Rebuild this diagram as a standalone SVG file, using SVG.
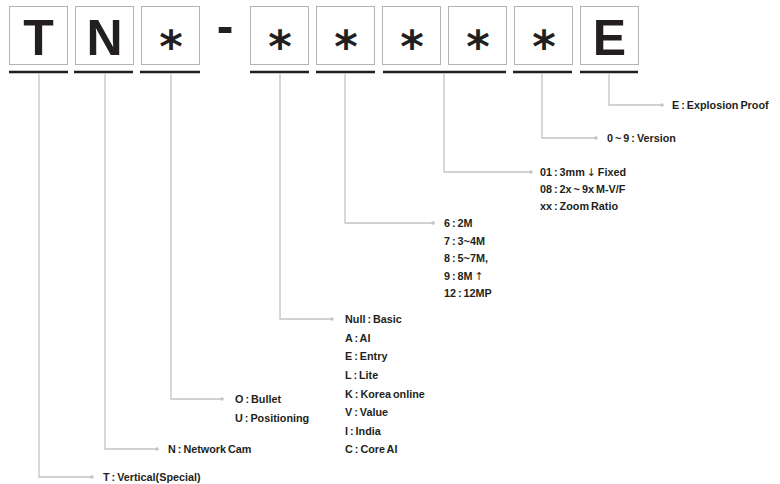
<svg xmlns="http://www.w3.org/2000/svg" width="780" height="484" viewBox="0 0 780 484">
<style>
.box{fill:#fff;stroke:#b3b3b3;stroke-width:1}
.ul{stroke:#231f20;stroke-width:2.6}
.big{font-family:"Liberation Sans",Arial,sans-serif;font-weight:bold;font-size:50px;fill:#231f20;text-anchor:middle}
.ast{font-family:"DejaVu Sans",sans-serif;font-weight:bold;font-size:45px;fill:#231f20;text-anchor:middle}
.conn{fill:none;stroke:#c4c4c4;stroke-width:1.3}
.dot{fill:#c4c4c4}
.lbl{font-family:"Liberation Sans",Arial,sans-serif;font-weight:bold;font-size:10.8px;fill:#231f20;word-spacing:-1px}
.arr{font-family:"DejaVu Sans",sans-serif;font-weight:normal;fill:#231f20}
</style>
<rect width="780" height="484" fill="#fff"/>
<g id="code">
<g id="c1"><rect class="box" x="9.5" y="6.5" width="58" height="58"/><text class="big" x="38.5" y="55">T</text><line class="ul" x1="9" y1="72" x2="68" y2="72"/></g>
<g id="c2"><rect class="box" x="75.5" y="6.5" width="58" height="58"/><text class="big" x="104.5" y="55">N</text><line class="ul" x1="74" y1="72" x2="133" y2="72"/></g>
<g id="c3"><rect class="box" x="141.5" y="6.5" width="58" height="58"/><text class="ast" x="171" y="62">*</text><line class="ul" x1="140" y1="72" x2="200" y2="72"/></g>
<g id="dash"><text class="big" x="225" y="43">-</text></g>
<g id="c4"><rect class="box" x="250.5" y="6.5" width="58" height="58"/><text class="ast" x="280" y="62">*</text><line class="ul" x1="250" y1="72" x2="309" y2="72"/></g>
<g id="c5"><rect class="box" x="316.5" y="6.5" width="58" height="58"/><text class="ast" x="346" y="62">*</text><line class="ul" x1="316" y1="72" x2="375" y2="72"/></g>
<g id="c6"><rect class="box" x="382.5" y="6.5" width="58" height="58"/><text class="ast" x="412" y="62">*</text></g>
<g id="c7"><rect class="box" x="448.5" y="6.5" width="58" height="58"/><text class="ast" x="478" y="62">*</text><line class="ul" x1="383" y1="72" x2="506" y2="72"/></g>
<g id="c8"><rect class="box" x="514.5" y="6.5" width="58" height="58"/><text class="ast" x="544" y="62">*</text><line class="ul" x1="513" y1="72" x2="572" y2="72"/></g>
<g id="c9"><rect class="box" x="580.5" y="6.5" width="58" height="58"/><text class="big" x="609.5" y="55">E</text><line class="ul" x1="580" y1="72" x2="638" y2="72"/></g>
</g>
<g id="connectors">
<path class="conn" d="M39,73.5V477H92"/><circle class="dot" cx="92" cy="477" r="1.8"/>
<path class="conn" d="M105,73.5V449H157"/><circle class="dot" cx="157" cy="449" r="1.8"/>
<path class="conn" d="M171,73.5V399H222"/><circle class="dot" cx="222" cy="399" r="1.8"/>
<path class="conn" d="M280,73.5V319H332"/><circle class="dot" cx="332" cy="319" r="1.8"/>
<path class="conn" d="M345,73.5V223H433"/><circle class="dot" cx="433" cy="223" r="1.8"/>
<path class="conn" d="M444,73.5V172H531"/><circle class="dot" cx="531" cy="172" r="1.8"/>
<path class="conn" d="M542,73.5V138H596"/><circle class="dot" cx="596" cy="138" r="1.8"/>
<path class="conn" d="M609,73.5V105H662"/><circle class="dot" cx="662" cy="105" r="1.8"/>
</g>
<g id="labels">
<g id="l-E"><text class="lbl" x="672" y="109">E : Explosion Proof</text></g>
<g id="l-ver"><text class="lbl" x="607" y="142">0 ~ 9 : Version</text></g>
<g id="l-lens"><text class="lbl" x="540" y="176">01 : 3mm <tspan class="arr">↓</tspan> Fixed</text><text class="lbl" x="540" y="193">08 : 2x ~ 9x M-V/F</text><text class="lbl" x="540" y="210">xx : Zoom Ratio</text></g>
<g id="l-res"><text class="lbl" x="444" y="227">6 : 2M</text><text class="lbl" x="444" y="245">7 : 3~4M</text><text class="lbl" x="444" y="262">8 : 5~7M,</text><text class="lbl" x="444" y="280">9 : 8M <tspan class="arr">↑</tspan></text><text class="lbl" x="444" y="297">12 : 12MP</text></g>
<g id="l-grade"><text class="lbl" x="345" y="323">Null : Basic</text><text class="lbl" x="345" y="341.5">A : AI</text><text class="lbl" x="345" y="360">E : Entry</text><text class="lbl" x="345" y="379">L : Lite</text><text class="lbl" x="345" y="397.5">K : Korea online</text><text class="lbl" x="345" y="416">V : Value</text><text class="lbl" x="345" y="434.5">I : India</text><text class="lbl" x="345" y="453">C : Core AI</text></g>
<g id="l-type"><text class="lbl" x="235" y="403">O : Bullet</text><text class="lbl" x="235" y="422">U : Positioning</text></g>
<g id="l-N"><text class="lbl" x="168" y="453">N : Network Cam</text></g>
<g id="l-T"><text class="lbl" x="103" y="481">T : Vertical(Special)</text></g>
</g>
</svg>
